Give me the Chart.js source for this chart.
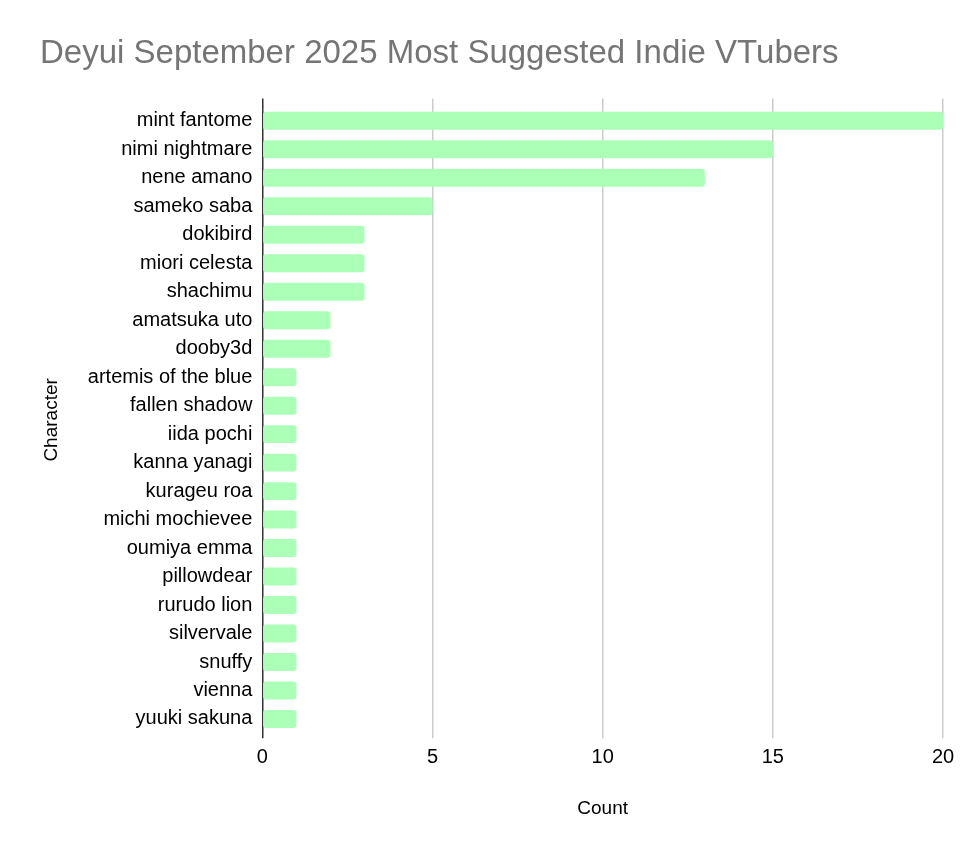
<!DOCTYPE html>
<html lang="en">
<head>
<meta charset="UTF-8">
<title>Deyui September 2025 Most Suggested Indie VTubers</title>
<script src="https://cdn.jsdelivr.net/npm/chart.js"></script>
<style>
  html, body { margin: 0; padding: 0; background: #fff; }
  #wrap { width: 979px; height: 855px; }
</style>
</head>
<body>
<div id="wrap"><canvas id="chart"></canvas></div>
<script>
// chart data
const characters = [
  'mint fantome', 'nimi nightmare', 'nene amano', 'sameko saba', 'dokibird',
  'miori celesta', 'shachimu', 'amatsuka uto', 'dooby3d', 'artemis of the blue',
  'fallen shadow', 'iida pochi', 'kanna yanagi', 'kurageu roa', 'michi mochievee',
  'oumiya emma', 'pillowdear', 'rurudo lion', 'silvervale', 'snuffy',
  'vienna', 'yuuki sakuna'
];
const counts = [20, 15, 13, 5, 3, 3, 3, 2, 2, 1, 1, 1, 1, 1, 1, 1, 1, 1, 1, 1, 1, 1];
const countTicks = [0, 5, 10, 15, 20];

const font = 'Arial, "Liberation Sans", sans-serif';
const gridColor = ctx => ctx.tick && ctx.tick.value === 0 ? '#333333' : '#cccccc';
const setTicks = axis => { axis.ticks = countTicks.map(v => ({ value: v })); };

new Chart(document.getElementById('chart'), {
  type: 'bar',
  data: {
    labels: characters,
    datasets: [{
      label: 'Count',
      data: counts,
      backgroundColor: '#abffb6',
      borderRadius: 3,
      borderSkipped: false,
      barPercentage: 0.63,
      categoryPercentage: 1.0
    }]
  },
  options: {
    indexAxis: 'y',
    responsive: true,
    maintainAspectRatio: false,
    animation: false,
    layout: { padding: { left: 40, right: 36, top: 10, bottom: 35 } },
    plugins: {
      legend: { display: false },
      tooltip: { enabled: false },
      title: {
        display: true,
        text: 'Deyui September 2025 Most Suggested Indie VTubers',
        align: 'start',
        color: '#757575',
        font: { family: font, size: 33, weight: 'normal' },
        padding: { top: 24, bottom: 25 }
      }
    },
    scales: {
      x: {
        min: 0,
        max: 20,
        afterBuildTicks: setTicks,
        grid: { color: gridColor, lineWidth: 1.5, tickLength: 5 },
        border: { display: false },
        ticks: {
          color: '#000',
          padding: 7,
          font: { family: font, size: 20 }
        },
        title: {
          display: true,
          text: 'Count',
          color: '#000',
          font: { family: font, size: 19 },
          padding: { top: 21, bottom: 0 }
        }
      },
      // top axis only extends the grid lines a little above the bars
      xTop: {
        type: 'linear',
        position: 'top',
        min: 0,
        max: 20,
        afterBuildTicks: setTicks,
        grid: { color: gridColor, lineWidth: 1.5, drawOnChartArea: false, tickLength: 8 },
        border: { display: false },
        ticks: { display: false }
      },
      y: {
        grid: { display: false, drawTicks: false },
        border: { display: false },
        ticks: {
          color: '#000',
          padding: 10,
          autoSkip: false,
          font: { family: font, size: 20 }
        },
        title: {
          display: true,
          text: 'Character',
          color: '#000',
          font: { family: font, size: 19 },
          padding: { top: 0, bottom: 15 }
        }
      }
    }
  }
});
</script>
</body>
</html>
